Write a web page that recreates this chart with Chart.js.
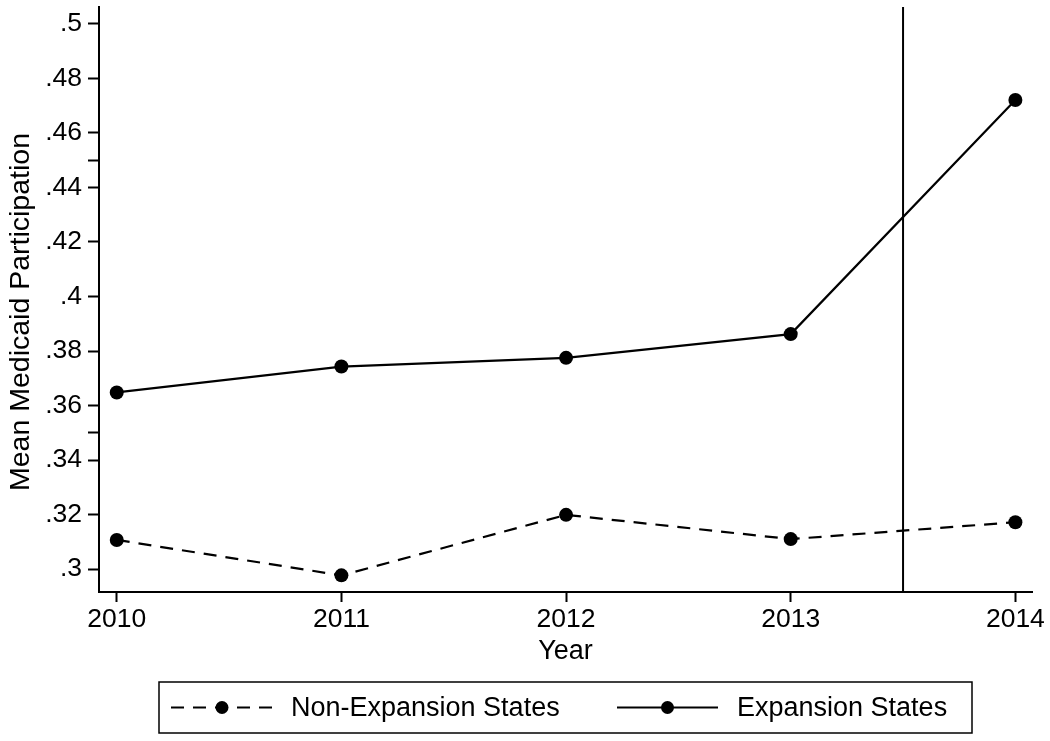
<!DOCTYPE html>
<html lang="en">
<head>
    <meta charset="UTF-8">
    <title>Medicaid Participation</title>
    <script src="https://cdn.jsdelivr.net/npm/chart.js"></script>
    <style>
        body { margin: 0; background: #fff; overflow: hidden; }
        .chart-container { width: 1050px; height: 741px; }
    </style>
</head>
<body>
    <div class="chart-container">
        <canvas id="myChart"></canvas>
    </div>

    <script>
        // Data
        const years = [2010, 2011, 2012, 2013, 2014];
        const nonExpansion = [0.3107, 0.2977, 0.3199, 0.3110, 0.3172];
        const expansion = [0.3648, 0.3743, 0.3775, 0.3862, 0.4721];
        const seriesLabels = ['Non-Expansion States', 'Expansion States'];
        const yTickValues = [0.30, 0.32, 0.34, 0.35, 0.36, 0.38, 0.40, 0.42, 0.44, 0.45, 0.46, 0.48, 0.50];
        const yTickLabels = ['.3', '.32', '.34', '', '.36', '.38', '.4', '.42', '.44', '', '.46', '.48', '.5'];
        const policyYear = 2013.5;
        const xTitle = 'Year';
        const yTitle = 'Mean Medicaid Participation';

        const FONT = '"Liberation Sans", Arial, Helvetica, sans-serif';
        const yMin = 0.2916, yMax = 0.5062;

        const toPoints = vals => years.map((x, i) => ({ x: x, y: vals[i] }));

        // legend box drawn by hand (Stata style: framed, line + marker samples)
        const boxLegend = {
            id: 'boxLegend',
            afterDraw(chart) {
                const ctx = chart.ctx;
                ctx.save();
                ctx.strokeStyle = '#000';
                ctx.lineWidth = 1.5;
                ctx.strokeRect(159, 682, 813, 51);

                const cy = 707.5;
                const slots = [
                    { x0: 171, x1: 273, tx: 291 },
                    { x0: 617, x1: 718, tx: 737 }
                ];
                const items = chart.data.datasets.filter(d => d.inLegend);
                items.forEach((ds, i) => {
                    const s = slots[i];
                    ctx.beginPath();
                    ctx.lineWidth = 2;
                    ctx.setLineDash(ds.borderDash || []);
                    ctx.moveTo(s.x0, cy);
                    ctx.lineTo(s.x1, cy);
                    ctx.stroke();
                    ctx.setLineDash([]);
                    ctx.beginPath();
                    ctx.arc((s.x0 + s.x1) / 2, cy, 6.5, 0, Math.PI * 2);
                    ctx.fillStyle = '#000';
                    ctx.fill();
                    ctx.font = '27px ' + FONT;
                    ctx.textAlign = 'left';
                    ctx.textBaseline = 'middle';
                    ctx.fillText(ds.label, s.tx, cy + 1);
                });

                // y axis title
                ctx.translate(21, 312);
                ctx.rotate(-Math.PI / 2);
                ctx.font = '28.5px ' + FONT;
                ctx.textAlign = 'center';
                ctx.textBaseline = 'middle';
                ctx.fillStyle = '#000';
                ctx.fillText(yTitle, 0, 0);
                ctx.restore();
            }
        };

        const ctx = document.getElementById('myChart').getContext('2d');
        new Chart(ctx, {
            type: 'line',
            data: {
                datasets: [
                    {
                        label: seriesLabels[0],
                        inLegend: true,
                        data: toPoints(nonExpansion),
                        borderColor: '#000',
                        backgroundColor: '#000',
                        borderWidth: 2.2,
                        borderDash: [13, 9],
                        pointRadius: 7,
                        pointBorderWidth: 0,
                        tension: 0
                    },
                    {
                        label: seriesLabels[1],
                        inLegend: true,
                        data: toPoints(expansion),
                        borderColor: '#000',
                        backgroundColor: '#000',
                        borderWidth: 2.2,
                        pointRadius: 7,
                        pointBorderWidth: 0,
                        tension: 0
                    },
                    {
                        label: 'policy',
                        data: [{ x: policyYear, y: yMin }, { x: policyYear, y: yMax }],
                        borderColor: '#000',
                        borderWidth: 2,
                        pointRadius: 0
                    }
                ]
            },
            options: {
                responsive: true,
                maintainAspectRatio: false,
                animation: false,
                layout: { padding: { top: 7, right: 18, bottom: 73, left: 0 } },
                plugins: {
                    legend: { display: false },
                    tooltip: { enabled: false }
                },
                scales: {
                    x: {
                        type: 'linear',
                        min: 2009.921,
                        max: 2014.074,
                        afterBuildTicks: s => { s.ticks = years.map(v => ({ value: v })); },
                        afterFit: s => { s.height = 76; s.paddingLeft = 0; s.paddingRight = 0; },
                        ticks: {
                            callback: v => String(v),
                            color: '#000',
                            font: { family: FONT, size: 26.5 },
                            padding: 2,
                            maxRotation: 0,
                            autoSkip: false
                        },
                        grid: {
                            drawOnChartArea: false,
                            tickLength: 10,
                            tickWidth: 2,
                            tickColor: '#000'
                        },
                        border: { display: true, color: '#000', width: 2 },
                        title: {
                            display: true,
                            text: xTitle,
                            color: '#000',
                            font: { family: FONT, size: 27 },
                            padding: { top: 0, bottom: 0 }
                        }
                    },
                    y: {
                        min: yMin,
                        max: yMax,
                        afterBuildTicks: s => { s.ticks = yTickValues.map(v => ({ value: v })); },
                        afterFit: s => { s.width = 99; s.paddingTop = 0; s.paddingBottom = 0; },
                        ticks: {
                            callback: (v, i) => yTickLabels[i],
                            color: '#000',
                            font: { family: FONT, size: 26.5 },
                            padding: 6,
                            autoSkip: false
                        },
                        grid: {
                            drawOnChartArea: false,
                            tickLength: 11,
                            tickWidth: 2,
                            tickColor: '#000'
                        },
                        border: { display: true, color: '#000', width: 2 }
                    }
                }
            },
            plugins: [boxLegend]
        });
    </script>
</body>
</html>
